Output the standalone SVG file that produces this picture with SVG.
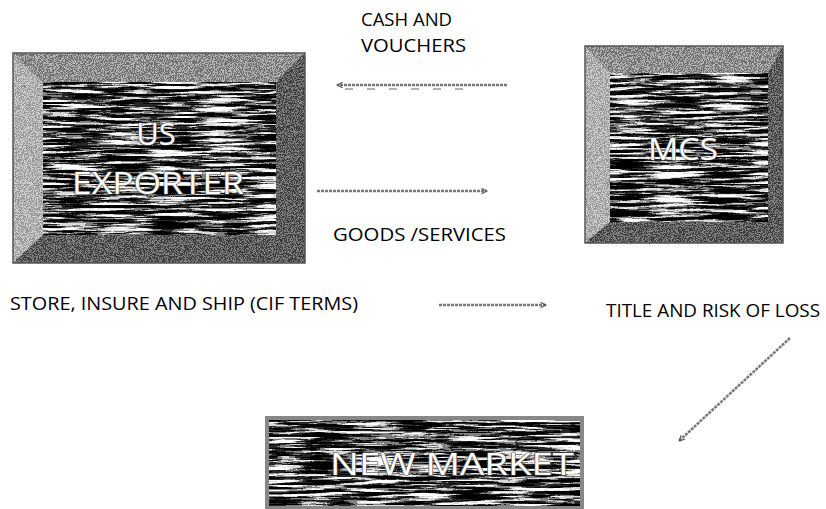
<svg xmlns="http://www.w3.org/2000/svg" width="826" height="509" viewBox="0 0 826 509">
<defs>
<filter id="marble" x="0" y="0" width="100%" height="100%" color-interpolation-filters="sRGB">
 <feTurbulence type="fractalNoise" baseFrequency="0.02 0.35" numOctaves="5" seed="7" result="n"/>
 <feColorMatrix in="n" type="matrix" values="0.33 0.33 0.33 0 0 0.33 0.33 0.33 0 0 0.33 0.33 0.33 0 0 0 0 0 0 1" result="g"/>
 <feComponentTransfer in="g" result="c">
  <feFuncR type="linear" slope="5" intercept="-2.1"/>
  <feFuncG type="linear" slope="5" intercept="-2.1"/>
  <feFuncB type="linear" slope="5" intercept="-2.1"/>
 </feComponentTransfer>
 <feComponentTransfer in="c" result="d">
  <feFuncR type="discrete" tableValues="0 0.15 0.5 0.85 1"/>
  <feFuncG type="discrete" tableValues="0 0.15 0.5 0.85 1"/>
  <feFuncB type="discrete" tableValues="0 0.15 0.5 0.85 1"/>
  <feFuncA type="table" tableValues="1 1"/>
 </feComponentTransfer>
 <feComposite in="d" in2="SourceGraphic" operator="in"/>
</filter>
<filter id="speckL" x="0" y="0" width="100%" height="100%" color-interpolation-filters="sRGB">
 <feTurbulence type="fractalNoise" baseFrequency="0.9" numOctaves="2" seed="2" result="n"/>
 <feColorMatrix in="n" type="matrix" values="0.33 0.33 0.33 0 0 0.33 0.33 0.33 0 0 0.33 0.33 0.33 0 0 0 0 0 0 1" result="g"/>
 <feComponentTransfer in="g" result="d">
  <feFuncR type="discrete" tableValues="0.35 0.6 0.8 0.95"/>
  <feFuncG type="discrete" tableValues="0.35 0.6 0.8 0.95"/>
  <feFuncB type="discrete" tableValues="0.35 0.6 0.8 0.95"/>
  <feFuncA type="table" tableValues="1 1"/>
 </feComponentTransfer>
 <feComposite in="d" in2="SourceGraphic" operator="in"/>
</filter>
<filter id="speckM" x="0" y="0" width="100%" height="100%" color-interpolation-filters="sRGB">
 <feTurbulence type="fractalNoise" baseFrequency="0.9" numOctaves="2" seed="5" result="n"/>
 <feColorMatrix in="n" type="matrix" values="0.33 0.33 0.33 0 0 0.33 0.33 0.33 0 0 0.33 0.33 0.33 0 0 0 0 0 0 1" result="g"/>
 <feComponentTransfer in="g" result="d">
  <feFuncR type="discrete" tableValues="0.2 0.45 0.7 0.9"/>
  <feFuncG type="discrete" tableValues="0.2 0.45 0.7 0.9"/>
  <feFuncB type="discrete" tableValues="0.2 0.45 0.7 0.9"/>
  <feFuncA type="table" tableValues="1 1"/>
 </feComponentTransfer>
 <feComposite in="d" in2="SourceGraphic" operator="in"/>
</filter>
<filter id="speckD" x="0" y="0" width="100%" height="100%" color-interpolation-filters="sRGB">
 <feTurbulence type="fractalNoise" baseFrequency="0.9" numOctaves="2" seed="9" result="n"/>
 <feColorMatrix in="n" type="matrix" values="0.33 0.33 0.33 0 0 0.33 0.33 0.33 0 0 0.33 0.33 0.33 0 0 0 0 0 0 1" result="g"/>
 <feComponentTransfer in="g" result="d">
  <feFuncR type="discrete" tableValues="0.05 0.25 0.5 0.8"/>
  <feFuncG type="discrete" tableValues="0.05 0.25 0.5 0.8"/>
  <feFuncB type="discrete" tableValues="0.05 0.25 0.5 0.8"/>
  <feFuncA type="table" tableValues="1 1"/>
 </feComponentTransfer>
 <feComposite in="d" in2="SourceGraphic" operator="in"/>
</filter>
<marker id="ahR" viewBox="0 0 10 10" refX="9" refY="5" markerWidth="7" markerHeight="7" markerUnits="userSpaceOnUse" orient="auto">
 <path d="M1,1 L9,5 L1,9" fill="none" stroke="#555" stroke-width="1.5"/>
</marker>
</defs>
<style>
 .lbl{font-family:"Open Sans","Liberation Sans",sans-serif;font-size:18px;fill:#000;}
 .big{font-family:"Open Sans","Liberation Sans",sans-serif;font-size:31px;fill:#ffffff;stroke:#555;stroke-width:1.2;paint-order:stroke;text-anchor:middle;}
 .conn{fill:none;stroke:#777;stroke-width:2.5;stroke-dasharray:3 1;}
 .frame{fill:none;stroke:#555;stroke-width:1.5;}
</style>

<g id="us-exporter">
 <rect x="13" y="53" width="292" height="210" fill="#888" filter="url(#marble)"/>
 <polygon points="13,53 305,53 276,82 43,82" fill="#000" filter="url(#speckM)"/>
 <polygon points="13,53 43,82 43,235 13,263" fill="#000" filter="url(#speckL)"/>
 <polygon points="305,53 305,263 276,235 276,82" fill="#000" filter="url(#speckD)"/>
 <polygon points="13,263 43,235 276,235 305,263" fill="#000" filter="url(#speckD)"/>
 <rect x="13" y="53" width="292" height="210" class="frame"/>
 <text class="big" x="156" y="145">US</text>
 <text class="big" x="158" y="194" textLength="172" lengthAdjust="spacingAndGlyphs">EXPORTER</text>
</g>

<g id="mcs">
 <rect x="585" y="46" width="198" height="197" fill="#888" filter="url(#marble)"/>
 <polygon points="585,46 783,46 768,73 610,73" fill="#000" filter="url(#speckM)"/>
 <polygon points="585,46 610,73 610,222 585,243" fill="#000" filter="url(#speckL)"/>
 <polygon points="783,46 783,243 768,222 768,73" fill="#000" filter="url(#speckD)"/>
 <polygon points="585,243 610,222 768,222 783,243" fill="#000" filter="url(#speckD)"/>
 <rect x="585" y="46" width="198" height="197" class="frame"/>
 <text class="big" x="683" y="160" textLength="70" lengthAdjust="spacingAndGlyphs">MCS</text>
</g>

<g id="new-market">
 <rect x="267" y="418" width="315" height="90" fill="#888" filter="url(#marble)"/>
 <rect x="267" y="418" width="315" height="90" fill="none" stroke="#888" stroke-width="4"/>
 <text class="big" x="452" y="475" textLength="244" lengthAdjust="spacingAndGlyphs">NEW MARKET</text>
</g>

<g id="connectors">
 <line class="conn" x1="507" y1="85" x2="337" y2="85" marker-end="url(#ahR)"/>
 <line x1="345" y1="89" x2="470" y2="89" stroke="#999" stroke-width="1.5" stroke-dasharray="8 14"/>
 <line class="conn" x1="317" y1="191" x2="487" y2="191" marker-end="url(#ahR)"/>
 <line class="conn" x1="439" y1="305" x2="546" y2="305" stroke-width="2" marker-end="url(#ahR)"/>
 <line class="conn" x1="790" y1="338" x2="679" y2="441" marker-end="url(#ahR)"/>
</g>

<g id="labels">
 <text class="lbl" x="361" y="26" textLength="91" lengthAdjust="spacingAndGlyphs">CASH AND</text>
 <text class="lbl" x="361" y="52" textLength="105" lengthAdjust="spacingAndGlyphs">VOUCHERS</text>
 <text class="lbl" x="333" y="241" textLength="173" lengthAdjust="spacingAndGlyphs">GOODS /SERVICES</text>
 <text class="lbl" x="10" y="310" textLength="348" lengthAdjust="spacingAndGlyphs">STORE, INSURE AND SHIP (CIF TERMS)</text>
 <text class="lbl" x="606" y="317" textLength="214" lengthAdjust="spacingAndGlyphs">TITLE AND RISK OF LOSS</text>
</g>
</svg>
